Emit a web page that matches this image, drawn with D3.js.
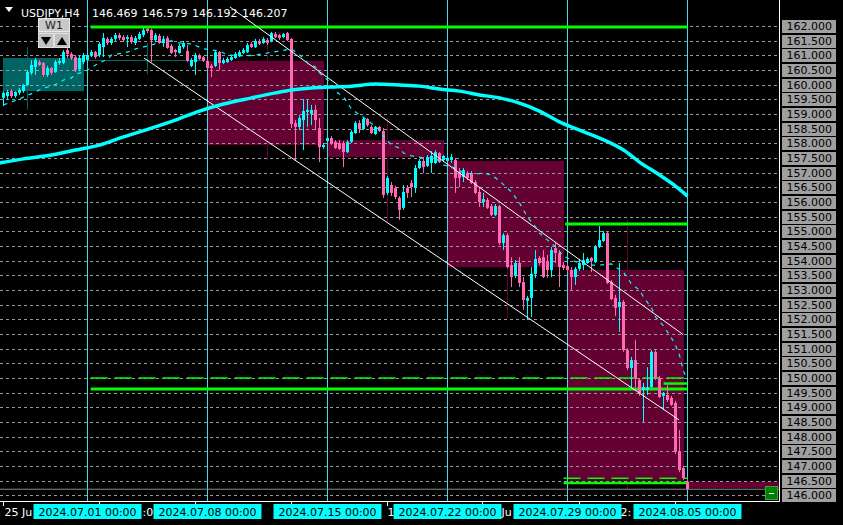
<!DOCTYPE html>
<html><head><meta charset="utf-8">
<script src="https://cdn.jsdelivr.net/npm/d3@7"></script>
<style>body{margin:0;background:#000;overflow:hidden}svg{display:block}</style>
</head><body><svg id="c" width="843" height="525"></svg>
<script>
// ---------------- DATA ----------------
const symbolName = "USDJPY,H4";
const headerValues = ["146.469", "146.579", "146.192", "146.207"];

const opens = [159.55,159.61,159.78,159.61,159.72,159.78,159.99,160.40,160.60,160.77,
160.74,160.33,160.57,160.43,160.74,160.74,161.18,161.05,160.94,160.53,
160.77,160.84,161.01,161.11,161.01,161.28,161.56,161.42,161.56,161.69,
161.62,161.56,161.62,161.42,161.56,161.69,161.90,161.86,161.52,161.66,
161.42,161.59,161.32,161.18,161.08,161.28,161.15,160.64,160.77,161.01,
160.94,160.81,160.64,160.64,161.11,160.74,160.77,160.84,160.91,160.98,
161.08,161.11,161.39,161.28,161.49,161.42,161.52,161.49,161.73,161.69,
161.62,161.76,161.56,158.69,158.56,158.79,159.07,159.00,159.14,158.52,
157.87,158.08,158.18,158.05,158.01,158.01,157.70,158.05,158.35,158.69,
158.49,158.83,158.56,158.32,158.56,158.42,156.31,156.58,156.48,156.14,
155.80,156.48,156.65,156.48,157.16,157.40,157.23,157.33,157.33,157.67,
157.43,157.40,157.43,157.43,157.02,156.85,156.99,156.99,156.68,156.34,
156.00,156.07,155.86,155.56,155.86,154.60,154.87,153.85,153.48,153.92,
153.27,152.63,152.73,153.55,154.09,154.12,153.95,153.68,154.43,154.26,
153.85,153.82,153.68,153.44,153.72,153.85,153.92,154.09,153.95,154.47,
154.67,154.94,153.27,152.73,152.42,152.59,150.95,150.34,150.61,149.93,
149.59,149.59,149.69,150.89,150.00,149.39,149.42,149.32,149.15,147.48,
146.93,146.469];
const highs = [159.78,159.82,159.85,159.78,159.89,160.02,160.50,160.84,160.91,160.84,
160.77,160.64,160.60,160.84,160.91,161.18,161.25,161.11,161.01,160.98,
161.08,161.08,161.18,161.15,161.45,161.76,161.62,161.62,161.76,161.76,
161.69,161.69,161.69,161.66,161.80,161.93,161.93,161.90,161.76,161.73,
161.66,161.66,161.39,161.22,161.39,161.49,161.35,160.91,161.08,161.05,
160.98,160.88,160.70,161.18,161.15,160.91,160.94,161.01,161.11,161.18,
161.25,161.42,161.45,161.56,161.56,161.62,161.59,161.80,161.80,161.73,
161.76,161.80,161.59,158.79,158.97,159.51,159.48,159.31,159.31,158.86,
158.01,158.22,158.25,158.11,158.11,158.08,158.11,158.45,158.76,158.79,
158.90,158.86,158.62,158.59,158.59,158.52,156.89,156.68,156.55,156.20,
156.58,156.58,156.75,157.26,157.47,157.53,157.60,157.74,157.77,157.70,
157.60,157.57,157.64,157.50,157.16,157.16,157.06,157.06,156.75,156.51,
156.31,156.14,155.93,155.93,155.90,154.94,154.94,154.12,154.02,154.12,
153.44,152.80,153.78,154.36,154.16,154.36,154.19,154.47,154.60,154.36,
153.95,153.89,153.78,153.78,154.06,154.26,154.12,154.12,154.53,155.18,
155.01,154.98,153.34,152.83,153.92,152.66,151.02,150.72,151.30,150.00,
149.83,150.37,150.95,150.95,150.07,149.52,149.76,149.39,149.22,148.23,
147.00,146.579];
const lows = [159.27,159.51,159.55,159.55,159.65,159.72,159.95,160.33,160.33,160.64,
160.26,160.26,160.33,160.40,160.67,160.70,160.91,160.84,160.43,160.46,
160.70,160.77,160.94,160.88,160.94,160.94,161.35,161.35,161.49,161.52,
161.45,161.28,161.39,161.35,161.52,161.62,161.76,160.77,161.45,161.39,
161.28,161.22,161.05,160.94,161.05,161.22,160.77,160.60,160.33,160.84,
160.77,160.53,160.26,160.60,160.50,160.70,160.74,160.81,160.88,160.94,
161.05,161.08,161.25,161.25,161.35,161.39,161.35,161.45,161.59,161.52,
161.59,161.49,158.52,157.43,158.45,157.77,158.56,158.62,158.45,157.36,
157.81,158.01,157.94,157.81,157.77,157.19,157.67,158.01,158.32,158.35,
158.45,158.56,158.32,158.28,158.39,156.14,156.24,156.20,156.10,155.39,
155.73,156.14,156.17,156.31,157.12,156.99,157.19,156.99,157.30,157.33,
157.36,157.36,157.33,156.31,156.51,156.68,156.75,156.61,156.27,155.83,
155.83,155.76,155.52,155.52,154.53,154.36,153.75,153.10,153.41,153.10,
152.32,151.98,152.08,153.41,153.85,153.41,153.41,153.44,153.92,153.10,
153.68,153.61,153.00,153.17,153.65,153.68,153.89,153.61,153.92,154.43,
154.64,153.20,152.66,152.11,151.57,150.89,150.27,149.66,149.69,149.39,
148.50,149.42,149.66,149.93,149.32,148.91,149.18,149.05,147.41,146.79,
146.52,146.192];
const closes = [159.72,159.75,159.61,159.75,159.82,159.99,160.43,160.67,160.84,160.67,
160.33,160.57,160.40,160.77,160.81,161.11,161.05,160.91,160.50,160.91,
161.01,161.01,161.11,160.94,161.39,161.59,161.42,161.56,161.69,161.59,
161.52,161.62,161.45,161.59,161.73,161.86,161.83,161.52,161.69,161.42,
161.56,161.25,161.08,161.11,161.32,161.42,160.81,160.84,161.01,160.88,
160.81,160.57,160.57,161.11,160.74,160.84,160.88,160.94,161.05,161.11,
161.18,161.35,161.28,161.49,161.39,161.56,161.42,161.76,161.62,161.59,
161.73,161.52,158.66,158.56,158.86,159.10,159.14,159.14,158.79,157.87,
157.94,158.18,158.01,157.84,157.81,157.70,158.05,158.39,158.69,158.49,
158.83,158.62,158.35,158.56,158.42,156.24,156.82,156.31,156.17,155.73,
156.34,156.31,156.51,157.16,157.40,157.19,157.53,157.57,157.70,157.36,
157.57,157.50,157.53,156.82,156.82,157.09,156.82,156.65,156.31,156.00,
156.10,155.80,155.56,155.86,154.60,154.87,153.78,153.44,153.92,153.24,
152.66,152.73,153.55,154.06,153.92,153.44,153.68,154.36,154.26,153.78,
153.75,153.68,153.44,153.72,153.92,154.02,154.06,153.99,154.47,154.70,
154.94,153.24,152.69,152.39,152.59,150.95,150.34,150.61,150.00,149.49,
149.69,149.69,150.89,150.00,149.35,149.49,149.25,149.08,147.48,146.86,
146.59,146.207];

// weekly overlay (higher timeframe boxes)
const wkFrom  = [0, 21, 51, 81, 111, 141, 171];
const wkTo    = [20, 50, 80, 110, 140, 170, 200];
const wkMid   = [6, 36, 66, 96, 126, 156, 186];
const wkOpen  = [159.78, 160.84, 160.81, 158.11, 157.40, 153.68, 146.47];
const wkClose = [160.91, 160.84, 157.94, 157.53, 153.78, 146.49, 146.25];
const wkHigh  = [161.28, 161.42, 161.52, 158.86, 157.60, 155.39, 146.47];
const wkLow   = [159.14, 160.36, 157.43, 155.32, 152.05, 146.20, 146.25];

// moving averages
const maSlowIdx = [-1,5,12,18,24,30,37,43,49,55,62,68,72,77,82,87,93,99,104,109,114,119,124,129,134,139,144,149,155,159,164,168,171];
const maSlowVal = [157.33,157.47,157.60,157.77,157.94,158.22,158.52,158.79,159.10,159.34,159.55,159.72,159.82,159.89,159.92,159.95,160.02,159.99,159.95,159.85,159.78,159.65,159.55,159.37,159.10,158.73,158.45,158.18,157.77,157.36,156.92,156.54,156.20];
const maFastIdx = [0,2,4,5,8,10,12,14,15,17,18,20,22,23,26,27,30,32,33,37,39,42,44,47,50,54,56,60,63,66,69,72,75,76,78,79,81,83,85,87,89,91,94,95,97,99,100,102,105,108,110,113,115,118,120,122,124,127,129,131,133,134,136,138,140,142,144,147,149,152,153,155,156,157,159,160,162,163,165,166,167,168,169,169.4,170.2,171];
const maFastVal = [159.31,159.41,159.51,159.58,159.75,159.89,159.95,160.06,160.16,160.23,160.36,160.43,160.57,160.67,160.87,161.01,161.08,161.15,161.22,161.35,161.45,161.49,161.42,161.39,161.22,161.15,161.01,160.98,161.01,161.08,161.15,161.22,160.91,160.74,160.60,160.40,160.16,159.78,159.58,159.17,158.97,158.79,158.45,158.22,157.94,157.84,157.67,157.57,157.50,157.50,157.26,157.16,156.99,156.95,156.99,156.92,156.72,156.34,155.97,155.49,155.15,154.94,154.70,154.47,154.16,154.02,153.92,153.85,153.85,153.89,153.78,153.61,153.41,153.20,153.00,152.76,152.39,152.08,151.77,151.57,151.36,151.12,150.78,150.55,150.17,149.93];

// horizontal levels: [price, fromBar, toBar]
const solidLevels  = [[161.97, 21.8, 171], [155.25, 140.4, 171], [149.62, 21.8, 171]];
const dashedLevels = [[150.00, 21.8, 171], [146.58, 140.0, 171]];
const shortLevels  = [[149.81, 165.0, 171], [146.42, 140.0, 171]];
// trend lines: [bar1, price1, bar2, price2]
const trendLines = [[56.6, 162.65, 169.9, 151.48], [35.1, 160.91, 168.9, 148.57]];

const priceTicks = ["162.000","161.500","161.000","160.500","160.000","159.500","159.000","158.500","158.000","157.500","157.000","156.500","156.000","155.500","155.000","154.500","154.000","153.500","153.000","152.500","152.000","151.500","151.000","150.500","150.000","149.500","149.000","148.500","148.000","147.500","147.000","146.500","146.000"];
// time-axis labels: only the parts left visible between the week boxes
const timeTickIdx = [0, 24, 48, 72, 96, 120, 144, 168];
const timeTickVisible = ["25 Ju", ":0", "", "", "1", "Ju", "2:", ""];
const timeTickOffset = [1, 43, 0, 0, 0, 19, 41, 0];
const weekStartIdx = [21, 51, 81, 111, 141, 171];
const weekLabels = ["2024.07.01 00:00","2024.07.08 00:00","2024.07.15 00:00","2024.07.22 00:00","2024.07.29 00:00","2024.08.05 00:00"];
const bidPrice = 146.207;

// ---------------- DRAW ----------------
const PR = 779, PB = 501;
const FONT = "DejaVu Sans, Verdana, sans-serif";
const BULL = "#00ffff", BEAR = "#ff69b4", SEP = "#40e0f0";
const x = d3.scaleLinear().domain([0, 171]).range([3.5, 687.5]);
const y = d3.scaleLinear().domain([146, 162]).range([495.3, 26]);

const svg = d3.select("#c");
svg.append("rect").attr("width", 843).attr("height", 525).attr("fill", "#000");
svg.append("defs").append("clipPath").attr("id", "clip")
  .append("rect").attr("x", 0).attr("y", 0).attr("width", PR).attr("height", PB);
const g = svg.append("g").attr("clip-path", "url(#clip)");

// weekly boxes
wkFrom.forEach((f, k) => {
  const bull = wkClose[k] >= wkOpen[k];
  const col = bull ? "#006464" : "#640032";
  g.append("line").attr("x1", x(wkMid[k])).attr("x2", x(wkMid[k]))
    .attr("y1", y(wkHigh[k])).attr("y2", y(wkLow[k])).attr("stroke", col).attr("stroke-width", 1);
  const y0 = y(Math.max(wkOpen[k], wkClose[k])), y1 = y(Math.min(wkOpen[k], wkClose[k]));
  g.append("rect").attr("x", x(f) - 0.5).attr("width", x(wkTo[k]) - x(f) + 1)
    .attr("y", y0).attr("height", Math.max(1, y1 - y0)).attr("fill", col);
});

// grid
g.selectAll(".grid").data(priceTicks).enter().append("line")
  .attr("x1", 0).attr("x2", PR)
  .attr("y1", d => Math.round(y(+d)) + 0.5).attr("y2", d => Math.round(y(+d)) + 0.5)
  .attr("stroke", "#9a9a9a").attr("stroke-width", 1).attr("stroke-dasharray", "3,3");

// week separators
g.selectAll(".sep").data(weekStartIdx).enter().append("line")
  .attr("x1", d => x(d)).attr("x2", d => x(d)).attr("y1", 0).attr("y2", PB)
  .attr("stroke", SEP).attr("stroke-width", 1);

// levels
solidLevels.forEach(l => g.append("line").attr("x1", x(l[1])).attr("x2", x(l[2]))
  .attr("y1", y(l[0])).attr("y2", y(l[0])).attr("stroke", "#00ff00").attr("stroke-width", 3));
dashedLevels.forEach(l => g.append("line").attr("x1", x(l[1])).attr("x2", x(l[2]))
  .attr("y1", y(l[0])).attr("y2", y(l[0])).attr("stroke", "#00ff00").attr("stroke-width", 1.5)
  .attr("stroke-dasharray", "17,7"));
shortLevels.forEach(l => g.append("line").attr("x1", x(l[1])).attr("x2", x(l[2]))
  .attr("y1", y(l[0])).attr("y2", y(l[0])).attr("stroke", "#00ff00").attr("stroke-width", 2.5));

// bid line
g.append("line").attr("x1", 0).attr("x2", PR).attr("y1", y(bidPrice)).attr("y2", y(bidPrice))
  .attr("stroke", "#8c8c8c").attr("stroke-width", 1);

// candles
const idx = d3.range(opens.length);
const cg = g.append("g");
idx.forEach(i => {
  const o = opens[i], c = closes[i];
  const col = c >= o ? BULL : BEAR;
  const cx = x(i);
  cg.append("line").attr("x1", cx).attr("x2", cx).attr("y1", y(highs[i])).attr("y2", y(lows[i]))
    .attr("stroke", col).attr("stroke-width", 1);
  const t = y(Math.max(o, c)), b = y(Math.min(o, c));
  cg.append("rect").attr("x", x(i) - 1.5).attr("width", 3).attr("y", t)
    .attr("height", Math.max(1, b - t)).attr("fill", col);
});

// trend lines
trendLines.forEach(t => g.append("line").attr("x1", x(t[0])).attr("y1", y(t[1]))
  .attr("x2", x(t[2])).attr("y2", y(t[3])).attr("stroke", "#ffffff").attr("stroke-width", 1));

// slow MA
const slowLine = d3.line().x(d => x(d[0])).y(d => y(d[1])).curve(d3.curveMonotoneX);
g.append("path").datum(maSlowIdx.map((d, i) => [d, maSlowVal[i]])).attr("d", slowLine)
  .attr("fill", "none").attr("stroke", BULL).attr("stroke-width", 3.5);
// fast MA (dotted)
const fastLine = d3.line().x(d => x(d[0])).y(d => y(d[1]));
g.append("path").datum(maFastIdx.map((d, i) => [d, maFastVal[i]])).attr("d", fastLine)
  .attr("fill", "none").attr("stroke", BULL).attr("stroke-width", 1.2).attr("stroke-dasharray", "4,5");

// small chart button
svg.append("rect").attr("x", 765.5).attr("y", 486.5).attr("width", 12).attr("height", 13)
  .attr("fill", "#008000").attr("stroke", "#40a040");
svg.append("line").attr("x1", 769).attr("x2", 774).attr("y1", 493.5).attr("y2", 493.5).attr("stroke", "#fff");

// frame
svg.append("line").attr("x1", PR + 0.5).attr("x2", PR + 0.5).attr("y1", 0).attr("y2", PB + 0.5).attr("stroke", "#fff");
svg.append("line").attr("x1", 0).attr("x2", PR + 0.5).attr("y1", PB + 0.5).attr("y2", PB + 0.5).attr("stroke", "#fff");

// price labels
const pl = svg.append("g");
priceTicks.forEach(p => {
  const yy = y(+p);
  pl.append("rect").attr("x", 781.5).attr("y", Math.round(yy - 7) + 0.5).attr("width", 55).attr("height", 14)
    .attr("fill", "#a0a0a0").attr("stroke", "#000").attr("stroke-width", 1);
  pl.append("text").attr("x", 832).attr("y", yy + 4).attr("text-anchor", "end")
    .attr("font-family", FONT).attr("font-size", 11).attr("fill", "#000").text(p);
});

// time axis
timeTickIdx.forEach((d, k) => {
  const tx = Math.round(x(d)) - 0.5;
  svg.append("line").attr("x1", tx).attr("x2", tx).attr("y1", PB).attr("y2", PB + 5).attr("stroke", "#fff");
  if (timeTickVisible[k]) {
    svg.append("text").attr("x", tx + timeTickOffset[k]).attr("y", 516).attr("font-family", FONT)
      .attr("font-size", 11).attr("fill", "#fff").text(timeTickVisible[k]);
  }
});
weekStartIdx.forEach((d, k) => {
  const cx = x(d);
  svg.append("rect").attr("x", cx - 54).attr("y", 504).attr("width", 108).attr("height", 15).attr("fill", "#00ffff");
  svg.append("text").attr("x", cx).attr("y", 516).attr("text-anchor", "middle").attr("font-family", FONT)
    .attr("font-size", 11).attr("fill", "#000").text(weekLabels[k]);
});

// header
svg.append("path").attr("d", "M5,7 L13,7 L9,12 Z").attr("fill", "#fff");
svg.append("text").attr("x", 21).attr("y", 17).attr("font-family", FONT).attr("font-size", 11)
  .attr("fill", "#fff").text(symbolName);
headerValues.forEach((v, k) => svg.append("text").attr("x", 92 + 50 * k).attr("y", 17)
  .attr("font-family", FONT).attr("font-size", 11).attr("fill", "#fff").text(v));

// W1 button
const b = svg.append("g");
b.append("rect").attr("x", 38).attr("y", 18).attr("width", 32).attr("height", 30).attr("fill", "#c0c0c0");
b.append("rect").attr("x", 38.5).attr("y", 18.5).attr("width", 31).attr("height", 13).attr("fill", "#c8c8c8")
  .attr("stroke", "#e8e8e8");
b.append("text").attr("x", 54).attr("y", 29).attr("text-anchor", "middle").attr("font-family", FONT)
  .attr("font-size", 11).attr("fill", "#202020").text("W1");
b.append("rect").attr("x", 38.5).attr("y", 33.5).attr("width", 15).attr("height", 14).attr("fill", "#c0c0c0").attr("stroke", "#e0e0e0");
b.append("rect").attr("x", 54.5).attr("y", 33.5).attr("width", 15).attr("height", 14).attr("fill", "#c0c0c0").attr("stroke", "#e0e0e0");
b.append("path").attr("d", "M41,37 L51,37 L46,45 Z").attr("fill", "#000");
b.append("path").attr("d", "M57,45 L67,45 L62,37 Z").attr("fill", "#000");
</script></body></html>
